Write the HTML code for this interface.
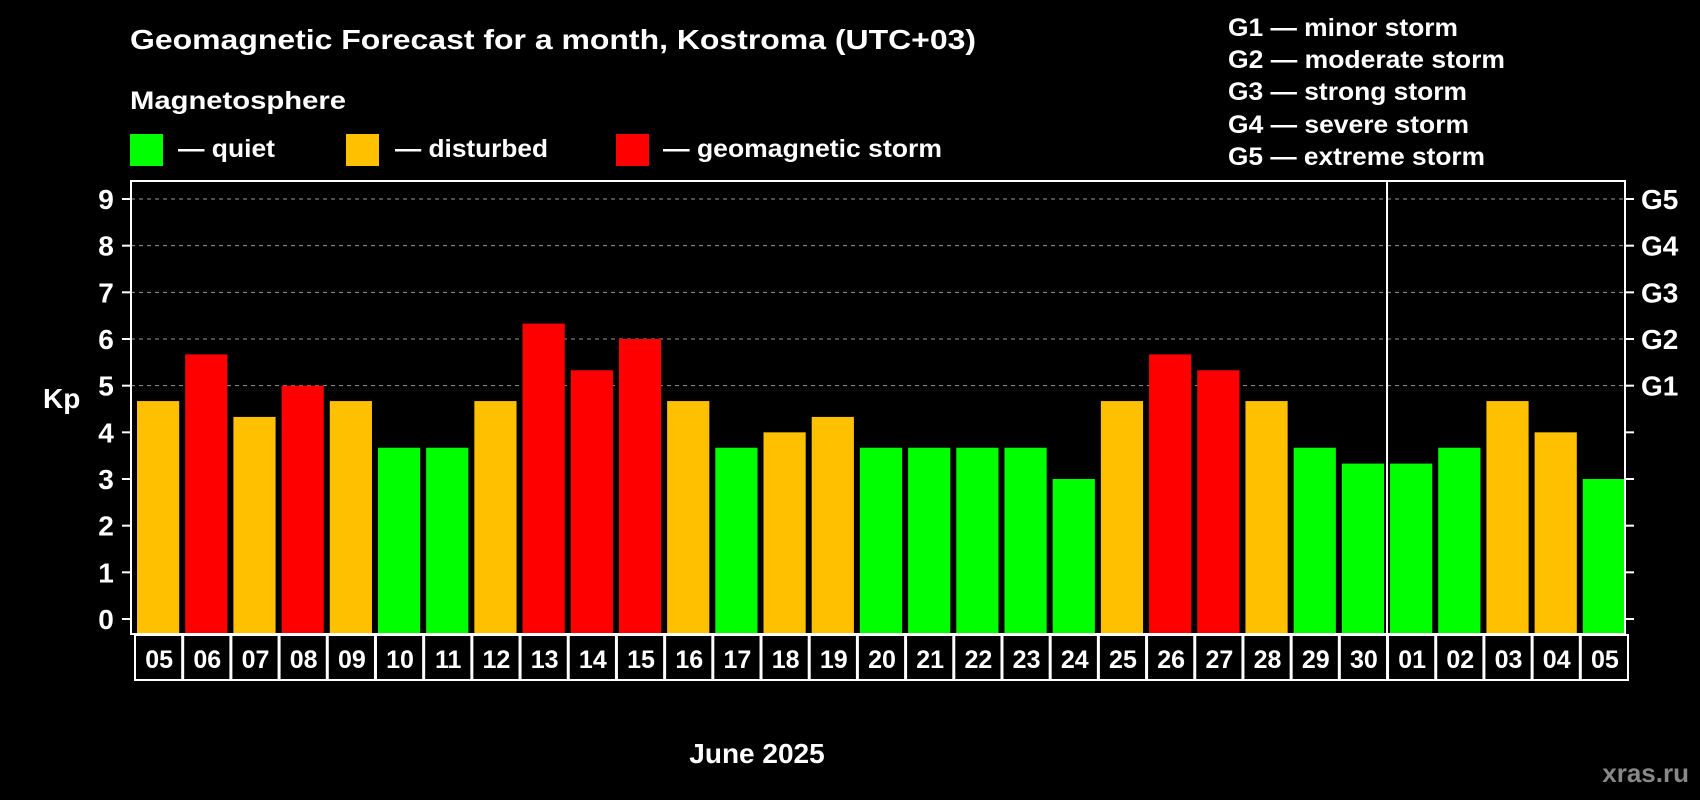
<!DOCTYPE html>
<html><head><meta charset="utf-8"><style>
html,body{margin:0;padding:0;background:#000;}
svg{display:block;font-family:"Liberation Sans",Arial,sans-serif;font-weight:bold;}
</style></head><body>
<svg id="chart" width="1700" height="800" viewBox="0 0 1700 800">
<text x="130" y="49" fill="#fff" font-size="28" textLength="846" lengthAdjust="spacingAndGlyphs">Geomagnetic Forecast for a month, Kostroma (UTC+03)</text>
<text x="130" y="109" fill="#fff" font-size="25" textLength="216" lengthAdjust="spacingAndGlyphs">Magnetosphere</text>
<g><rect x="130" y="134" width="33" height="32" fill="#00ff00"/><text x="178" y="157" fill="#fff" font-size="25" textLength="97" lengthAdjust="spacingAndGlyphs">— quiet</text></g>
<g><rect x="346" y="134" width="33" height="32" fill="#ffc000"/><text x="395" y="157" fill="#fff" font-size="25" textLength="153" lengthAdjust="spacingAndGlyphs">— disturbed</text></g>
<g><rect x="616" y="134" width="33" height="32" fill="#ff0000"/><text x="663" y="157" fill="#fff" font-size="25" textLength="279" lengthAdjust="spacingAndGlyphs">— geomagnetic storm</text></g>
<g fill="#fff" font-size="25">
<text x="1228" y="36" textLength="230" lengthAdjust="spacingAndGlyphs">G1 — minor storm</text>
<text x="1228" y="68" textLength="277" lengthAdjust="spacingAndGlyphs">G2 — moderate storm</text>
<text x="1228" y="100" textLength="239" lengthAdjust="spacingAndGlyphs">G3 — strong storm</text>
<text x="1228" y="133" textLength="241" lengthAdjust="spacingAndGlyphs">G4 — severe storm</text>
<text x="1228" y="165" textLength="257" lengthAdjust="spacingAndGlyphs">G5 — extreme storm</text>
</g>
<g id="grid"></g>
<g id="bars"></g>
<g id="axes"></g>
<text x="43" y="408" fill="#fff" font-size="28">Kp</text>
<text x="757" y="763" fill="#fff" font-size="28" text-anchor="middle">June 2025</text>
<text x="1689" y="782" fill="#888" font-size="26" text-anchor="end">xras.ru</text>
</svg>
<script>
const dates=["05","06","07","08","09","10","11","12","13","14","15","16","17","18","19","20","21","22","23","24","25","26","27","28","29","30","01","02","03","04","05"];
const kpValues=[4.67,5.67,4.33,5,4.67,3.67,3.67,4.67,6.33,5.33,6,4.67,3.67,4,4.33,3.67,3.67,3.67,3.67,3,4.67,5.67,5.33,4.67,3.67,3.33,3.33,3.67,4.67,4,3];
const yTicks=[0,1,2,3,4,5,6,7,8,9];
const gLabels=["G1","G2","G3","G4","G5"];
const gLevels=[5,6,7,8,9];
const monthBreak=26;
const NS="http://www.w3.org/2000/svg";
const L=131,R=1625,T=181,B=634,Y0=619,Y9=199;
const y=v=>Y0-(Y0-Y9)*v/9;
const step=(R-L)/dates.length;
const x=i=>L+i*step;
function mk(tag,attrs,parent){const e=document.createElementNS(NS,tag);for(const k in attrs)e.setAttribute(k,attrs[k]);parent.appendChild(e);return e;}
const grid=document.getElementById('grid'),bars=document.getElementById('bars'),axes=document.getElementById('axes');
gLevels.forEach(v=>{const l=mk('line',{x1:L,x2:R,y1:y(v),y2:y(v),stroke:'#999','stroke-dasharray':'4,4','stroke-width':1},grid);

});
kpValues.forEach((v,i)=>{const c=v>=5?'#ff0000':(v>=4?'#ffc000':'#00ff00');
const r=mk('rect',{x:x(i)+6,y:y(v),width:step-6,height:B-y(v),fill:c},bars);


const b=mk('rect',{x:x(i)+4,y:B+1,width:step-1,height:45,fill:'none',stroke:'#fff','stroke-width':2},axes);


const t=mk('text',{x:x(i)+4+step/2,y:B+34,fill:'#fff','font-size':25,'text-anchor':'middle'},axes);t.textContent=dates[i];

});
const f=mk('rect',{x:L,y:T,width:R-L,height:B-T,fill:'none',stroke:'#fff','stroke-width':2},axes);


const sep=mk('line',{x1:x(monthBreak)+3,x2:x(monthBreak)+3,y1:T,y2:B,stroke:'#fff','stroke-width':2},axes);


yTicks.forEach(v=>{mk('line',{x1:L-9,x2:L,y1:y(v),y2:y(v),stroke:'#fff','stroke-width':2},axes);
mk('line',{x1:R,x2:R+9,y1:y(v),y2:y(v),stroke:'#fff','stroke-width':2},axes);
const t=mk('text',{x:106,y:y(v)+10,fill:'#fff','font-size':28,'text-anchor':'middle'},axes);t.textContent=v;

});
gLabels.forEach((g,i)=>{const t=mk('text',{x:1641,y:y(gLevels[i])+10,fill:'#fff','font-size':28},axes);t.textContent=g;

});
</script>
</body></html>
